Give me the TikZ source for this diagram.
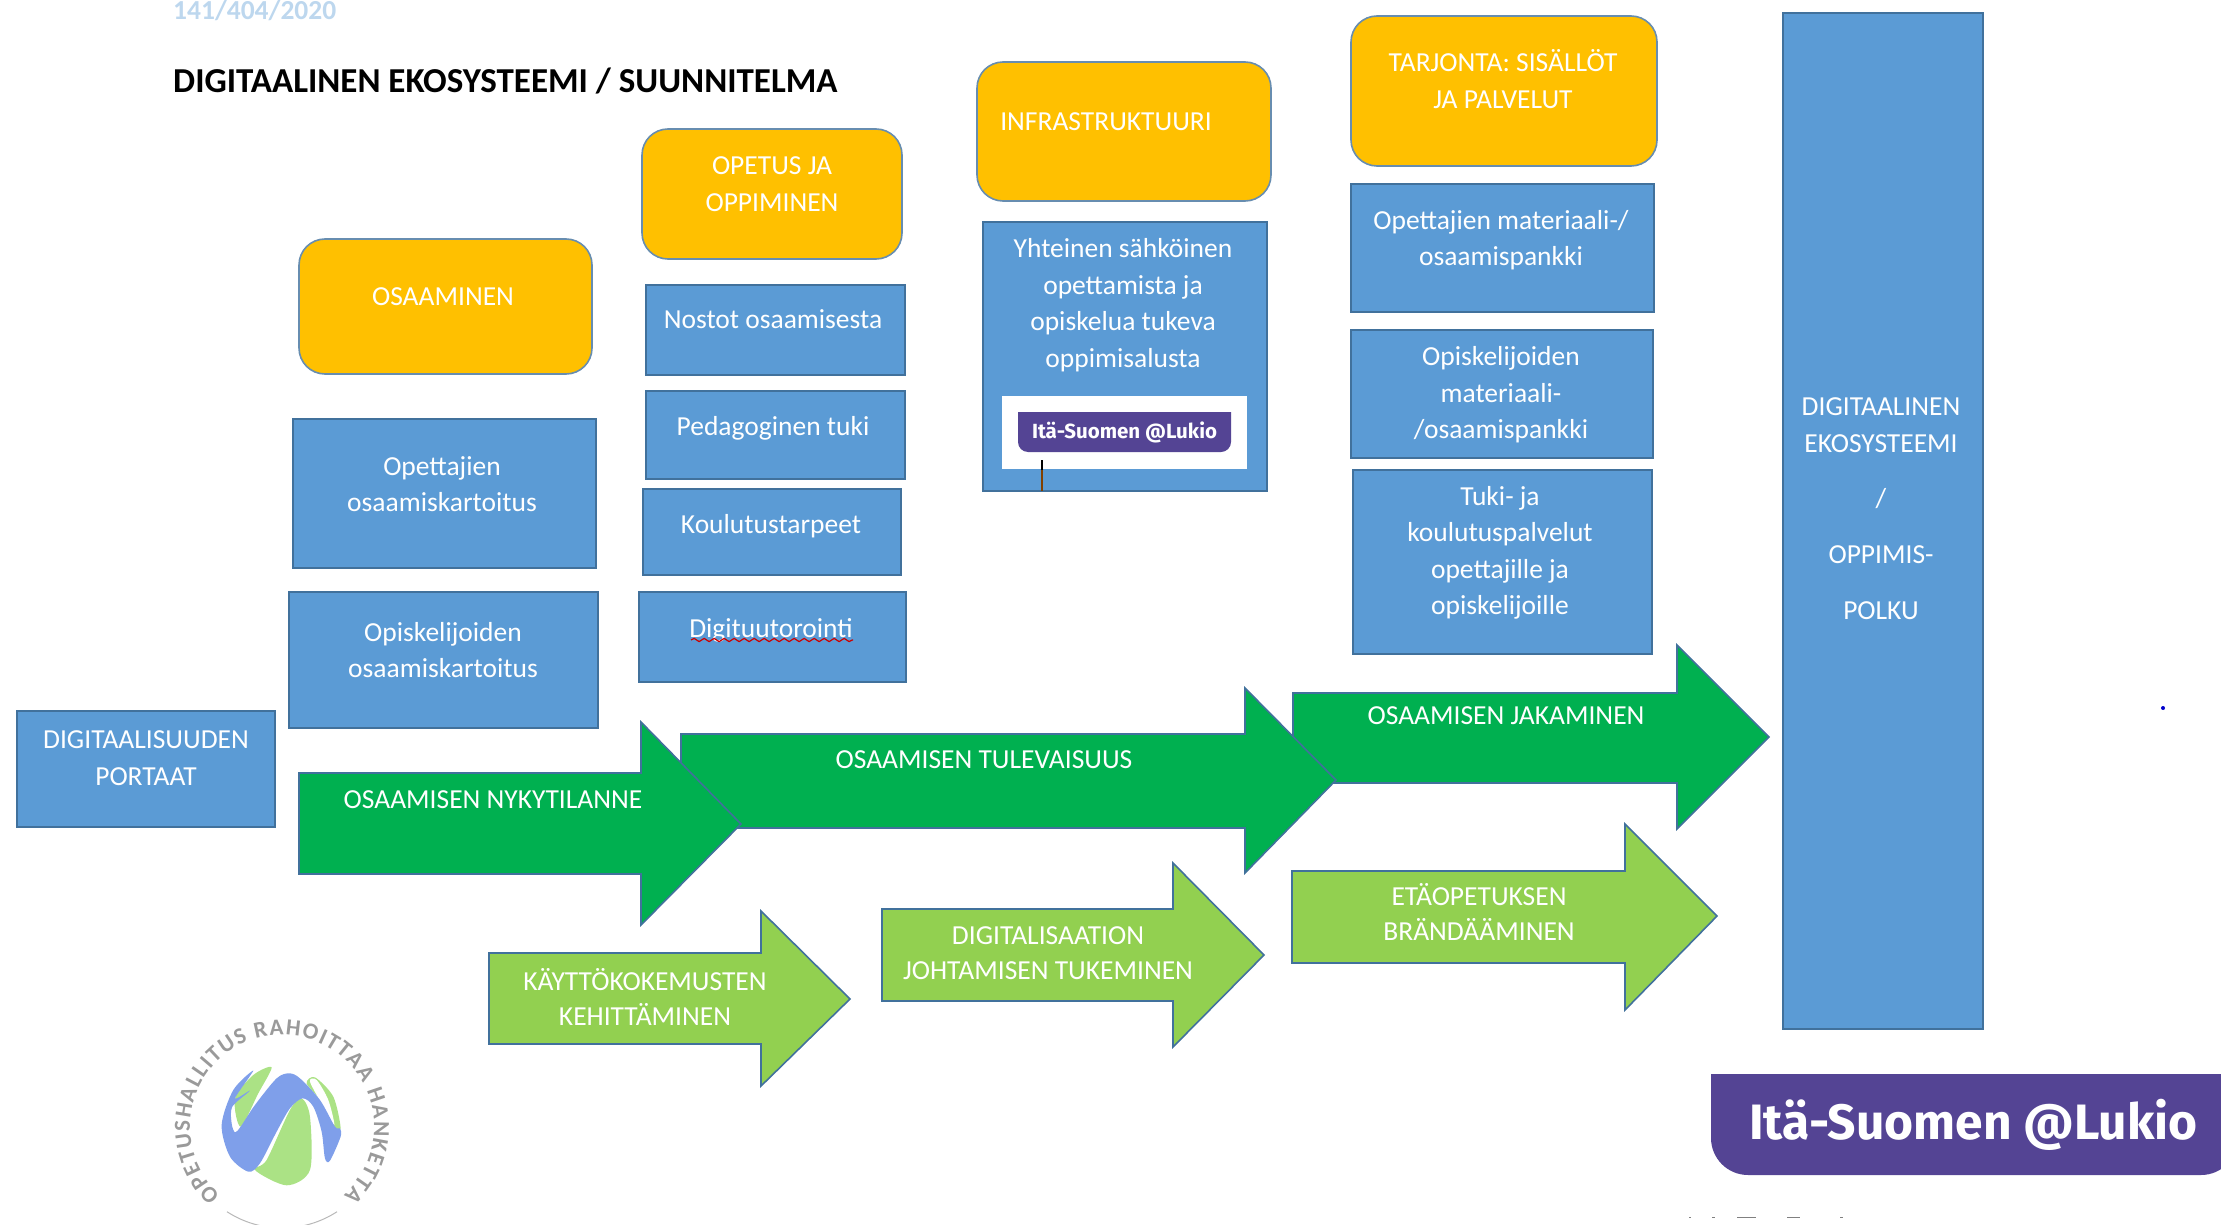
\documentclass[tikz,border=0pt]{standalone}
\usepackage{fontspec}
\setmainfont{Carlito}
\newfontfamily\badgefont{Fira Sans}
\usetikzlibrary{calc,decorations.text,decorations.pathmorphing}
\definecolor{boxblue}{HTML}{5B9BD5}
\definecolor{edgeblue}{HTML}{41719C}
\definecolor{headorange}{HTML}{FFC000}
\definecolor{arrowdark}{HTML}{00B050}
\definecolor{arrowlight}{HTML}{92D050}
\definecolor{badgepurple}{HTML}{544494}
\definecolor{datecolor}{HTML}{BDD7EE}
\definecolor{logogray}{HTML}{9A9A9A}
\definecolor{logoblue}{HTML}{7F9FEA}
\definecolor{logogreen}{HTML}{ABE285}
\tikzset{
bluebox/.style={
    rectangle,
    fill=boxblue,
    draw=edgeblue,
    line width=1.6pt,
    inner sep=0pt
},
headbox/.style={
    rectangle,
    rounded corners=26pt,
    fill=headorange,
    draw=edgeblue!80,
    line width=1.6pt,
    inner sep=0pt
},
boxtext/.style={
    align=center,
    text=white,
    inner sep=0pt,
    font=\fontsize{27.5}{36.5}\selectfont
},
arrowtext/.style={
    boxtext,
    font=\fontsize{27.5}{35}\selectfont
},
darkarrow/.style={
    fill=arrowdark,draw=edgeblue,line width=1.6pt,line join=miter
},
lightarrow/.style={
    fill=arrowlight,draw=edgeblue,line width=1.6pt,line join=miter
},
}
\begin{document}
\begin{tikzpicture}[x=1pt,y=-1pt]
\useasboundingbox (0,0) rectangle (2221,1225);
%
\node [anchor=west,inner sep=0pt,text=datecolor,font=\fontsize{27.5}{28}\selectfont\bfseries] (date) at (173,10) {141/404/2020};
\node [anchor=west,inner sep=0pt,font=\fontsize{35}{36}\selectfont\bfseries] (title) at (173,81) {DIGITAALINEN EKOSYSTEEMI / SUUNNITELMA};
%
\node [headbox,minimum width=293,minimum height=135] (osaaminen) at (445.5,306.5) {};
\node [boxtext] (osaaminen-t) at (443,297) {OSAAMINEN};
\node [headbox,minimum width=260,minimum height=130] (opetus) at (772,194) {};
\node [boxtext] (opetus-t) at (772,184) {OPETUS JA\\OPPIMINEN};
\node [headbox,minimum width=294,minimum height=139] (infra) at (1124,131.5) {};
\node [boxtext] (infra-t) at (1106,122) {INFRASTRUKTUURI};
\node [headbox,minimum width=306,minimum height=150] (tarjonta) at (1504,91) {};
\node [boxtext] (tarjonta-t) at (1503,79) {TARJONTA: SISÄLLÖT\\JA PALVELUT};
%
\node [bluebox,minimum width=303,minimum height=149] (opekart) at (444.5,493.5) {};
\node [boxtext] (opekart-t) at (442,484) {Opettajien\\osaamiskartoitus};
\node [bluebox,minimum width=309,minimum height=136] (opiskart) at (443.5,660) {};
\node [boxtext] (opiskart-t) at (443,650) {Opiskelijoiden\\osaamiskartoitus};
\node [bluebox,minimum width=258,minimum height=116] (portaat) at (146,769) {};
\node [boxtext] (portaat-t) at (146,758) {DIGITAALISUUDEN\\PORTAAT};
%
\node [bluebox,minimum width=259,minimum height=90] (nostot) at (775.5,330) {};
\node [boxtext] (nostot-t) at (773,319) {Nostot osaamisesta};
\node [bluebox,minimum width=259,minimum height=88] (pedagog) at (775.5,435) {};
\node [boxtext] (pedagog-t) at (773,428) {Pedagoginen tuki};
\node [bluebox,minimum width=258,minimum height=86] (koulutus) at (772,532) {};
\node [boxtext] (koulutus-t) at (771,526) {Koulutustarpeet};
\node [bluebox,minimum width=267,minimum height=90] (digi) at (772.5,637) {};
\node [boxtext] (digi-t) at (771,630) {Digituutorointi};
\draw [red!80!black,line width=1.2pt,decorate,decoration={snake,amplitude=1.6pt,segment length=10pt}] (691,640) -- (853,640);
%
\node [bluebox,minimum width=284,minimum height=269] (alusta) at (1125,356.5) {};
\node [boxtext] (alusta-t) at (1123,305) {Yhteinen sähköinen\\opettamista ja\\opiskelua tukeva\\oppimisalusta};
\node [fill=white,minimum width=245,minimum height=73,inner sep=0pt] (logobox) at (1124.5,432.5) {};
\fill [badgepurple] (1018,412) -- (1231,412) [rounded corners=10pt] -- (1231,452) -- (1018,452) [sharp corners] -- cycle;
\node [text=white,inner sep=0pt,font=\badgefont\fontsize{20.5}{21}\selectfont\bfseries] (badge-small) at (1124.5,432) {Itä-Suomen @Lukio};
\draw [black,line width=1.2pt] (1042,460) -- (1042,470);
\draw [black!50!orange,line width=1.2pt] (1042,470) -- (1042,491);
%
\node [bluebox,minimum width=303,minimum height=128] (opemat) at (1502.5,248) {};
\node [boxtext] (opemat-t) at (1501,240) {Opettajien materiaali-/\\osaamispankki};
\node [bluebox,minimum width=302,minimum height=128] (opimat) at (1502,394) {};
\node [boxtext] (opimat-t) at (1501,395) {Opiskelijoiden\\materiaali-\\/osaamispankki};
\node [bluebox,minimum width=299,minimum height=184] (tuki) at (1502.5,562) {};
\node [boxtext] (tuki-t) at (1500,553) {Tuki- ja\\koulutuspalvelut\\opettajille ja\\opiskelijoille};
%
\node [bluebox,minimum width=200,minimum height=1016] (ekosys) at (1883,521) {};
\node [boxtext] (ekosys-t) at (1881,509) {DIGITAALINEN\\EKOSYSTEEMI\\[19pt]/\\[19pt]OPPIMIS-\\[20pt]POLKU};
%
\draw [darkarrow] (1293,693) -- (1677,693) -- (1677,645) -- (1769,737) -- (1677,829) -- (1677,783) -- (1293,783) -- cycle;
\node [arrowtext] (jakaminen) at (1506,716) {OSAAMISEN JAKAMINEN};
\draw [darkarrow] (681,734) -- (1245,734) -- (1245,688) -- (1336,780) -- (1245,873) -- (1245,828) -- (681,828) -- cycle;
\node [arrowtext] (tulevaisuus) at (984,760) {OSAAMISEN TULEVAISUUS};
\draw [darkarrow] (299,773) -- (641,773) -- (641,722) -- (741,824) -- (641,925) -- (641,874) -- (299,874) -- cycle;
\node [arrowtext] (nykytila) at (493,800) {OSAAMISEN NYKYTILANNE};
%
\draw [lightarrow] (489,953) -- (761,953) -- (761,911) -- (850,999) -- (761,1086) -- (761,1044) -- (489,1044) -- cycle;
\node [arrowtext] (kaytto) at (645,997) {KÄYTTÖKOKEMUSTEN\\KEHITTÄMINEN};
\draw [lightarrow] (882,909) -- (1173,909) -- (1173,863) -- (1264,955) -- (1173,1047) -- (1173,1001) -- (882,1001) -- cycle;
\node [arrowtext] (johtaminen) at (1048,953) {DIGITALISAATION\\JOHTAMISEN TUKEMINEN};
\draw [lightarrow] (1292,871) -- (1625,871) -- (1625,824) -- (1717,916) -- (1625,1010) -- (1625,963) -- (1292,963) -- cycle;
\node [arrowtext] (etaopetus) at (1479,912) {ETÄOPETUKSEN\\BRÄNDÄÄMINEN};
%
\fill [badgepurple] (1711,1074) -- (2238,1074) [rounded corners=37pt] -- (2238,1175) -- (1711,1175) [sharp corners] -- cycle;
\node [anchor=base west,text=white,inner sep=0pt,font=\badgefont\fontsize{49.7}{50}\selectfont\bfseries] (badge) at (1749,1139) {Itä-Suomen @Lukio};
%
\fill [blue!80!black] (2163,708) circle (2pt);
\foreach \xa/\xb in {1689/1691,1712/1715,1737/1756,1787/1800,1840/1843}
    \draw [gray,line width=1pt] (\xa,1217) -- (\xb,1217);
%
\coordinate (logo) at (282,1127);
\path [decorate,decoration={text along path,text align=fit to path,
    text={|\fontsize{23}{23}\selectfont\bfseries\color{logogray}|OPETUSHALLITUS RAHOITTAA HANKETTA}}]
    ($(logo)+(228:92pt)$) arc [start angle=228,end angle=-48,radius=92pt];
\draw [logogray!70,line width=1pt] ($(logo)+(237:101pt)$) arc [start angle=237,end angle=303,radius=101pt];
\begin{scope}[x=.3333pt,y=-.3333pt,yshift=-950pt]
\fill [logogreen] plot [smooth cycle,tension=.5] coordinates {(705,445) (760,375) (815,352) (775,430) (722,530)};
\fill [logogreen] plot [smooth cycle,tension=.5] coordinates {(765,660) (860,706) (930,660) (930,500) (905,445) (870,480) (800,630)};
\fill [logogreen] plot [smooth cycle,tension=.5] coordinates {(920,400) (945,382) (1000,440) (1022,535) (1000,530) (960,450)};
\fill [white] plot [smooth cycle,tension=.5] coordinates {(930,395) (950,390) (985,450) (1003,525) (970,470)};
\fill [logoblue] plot [smooth cycle,tension=.5] coordinates {(760,362) (700,420) (665,525) (690,620) (745,665) (780,640) (830,545) (870,475) (908,445) (940,470) (965,545) (975,625) (990,632) (1022,560) (1020,535) (1005,530) (960,450) (900,385) (868,370) (830,385) (765,465) (722,530) (705,547) (695,520) (697,470) (750,422) (705,445)};
\end{scope}
%
\end{tikzpicture}
\end{document}
